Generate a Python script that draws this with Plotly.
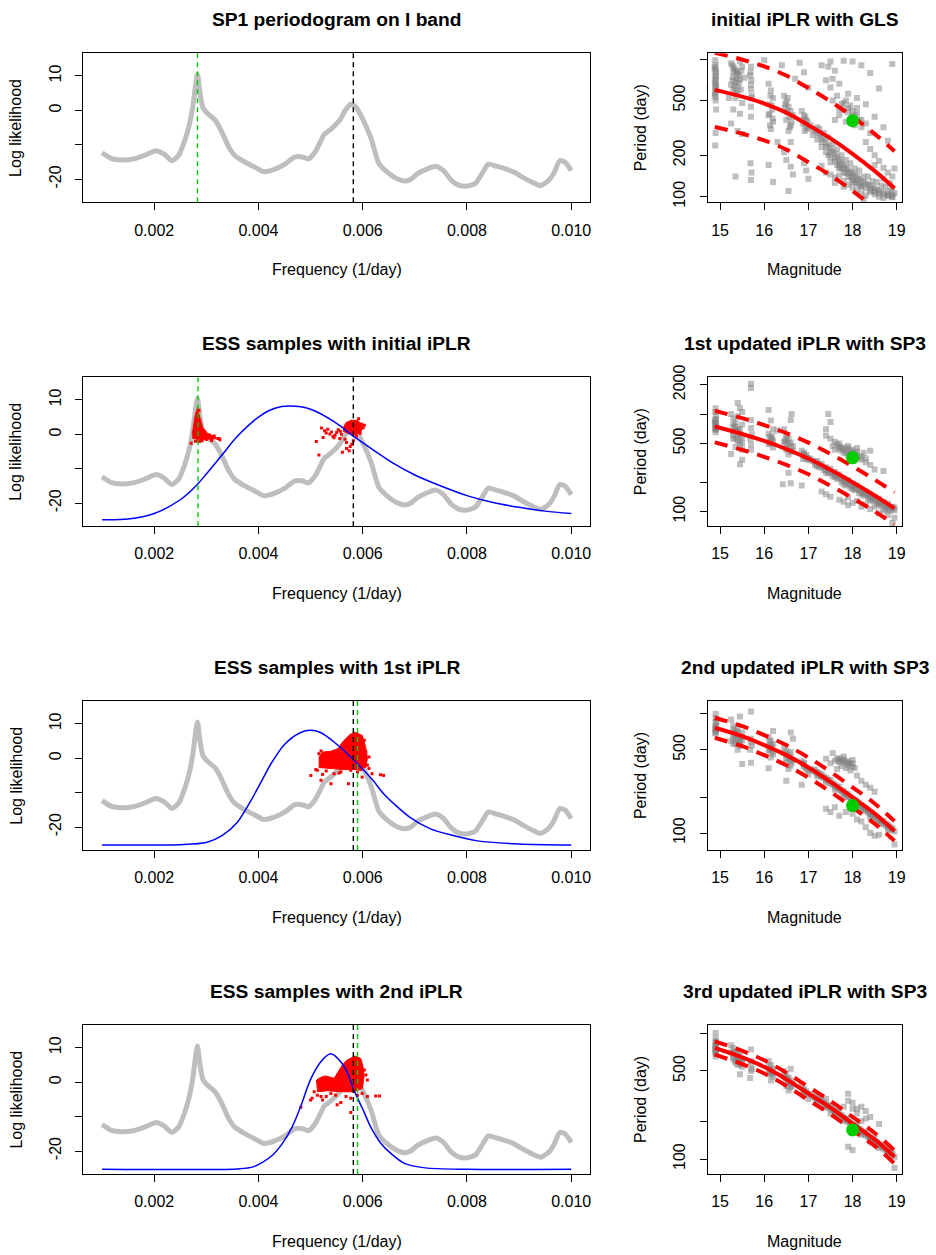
import plotly.graph_objects as go

W, H = 936, 1255
FONT = "Liberation Sans, Arial, Helvetica, sans-serif"

# ---- periodogram on I band (grey curve, identical in the four left panels)
freq = [0.00100, 0.00118, 0.00137, 0.00160, 0.00182, 0.00204, 0.00219, 0.00234, 0.00247, 0.00259,
        0.00268, 0.00274, 0.00279, 0.00283, 0.00288, 0.00294, 0.00306, 0.00317, 0.00328, 0.00343,
        0.00354, 0.00373, 0.00392, 0.00410, 0.00429, 0.00451, 0.00470, 0.00484, 0.00496, 0.00509,
        0.00519, 0.00526, 0.00541, 0.00556, 0.00567, 0.00577, 0.00586, 0.00601, 0.00616, 0.00631,
        0.00646, 0.00665, 0.00680, 0.00691, 0.00706, 0.00725, 0.00740, 0.00755, 0.00770, 0.00784,
        0.00799, 0.00816, 0.00829, 0.00841, 0.00856, 0.00874, 0.00889, 0.00908, 0.00927, 0.00942,
        0.00957, 0.00967, 0.00978, 0.00988, 0.01000]
loglik = [-12.3, -14.0, -14.4, -14.1, -13.0, -11.7, -12.7, -14.6, -13.0, -8.6,
          -3.8, 1.1, 6.9, 10.5, 4.9, 0.6, -1.4, -2.8, -5.7, -10.6,
          -13.0, -14.9, -16.4, -17.8, -17.2, -15.6, -13.5, -13.5, -14.1, -12.0,
          -9.1, -7.0, -5.2, -2.8, 0.1, 1.8, 1.2, -2.8, -8.1, -15.4,
          -17.8, -19.8, -20.5, -20.1, -18.3, -16.9, -16.2, -17.5, -20.3, -21.7,
          -22.0, -21.2, -18.3, -15.6, -16.2, -17.0, -17.8, -19.5, -21.0, -21.8,
          -20.3, -18.1, -14.6, -15.0, -17.5]

# ---- iPLR prior curves (blue), rows 2-4
prior_f = {
    2: [0.0010, 0.0015, 0.0020, 0.0025, 0.0028, 0.0030, 0.0033, 0.0036, 0.0040, 0.0043, 0.0046,
        0.0050, 0.0055, 0.0058, 0.0062, 0.0066, 0.0070, 0.0075, 0.0080, 0.0085, 0.0090, 0.0095, 0.0100],
    3: [0.0010, 0.0025, 0.0030, 0.0033, 0.0036, 0.00386, 0.0041, 0.00424, 0.0045, 0.0048, 0.0050,
        0.0052, 0.00545, 0.0059, 0.0062, 0.0064, 0.0069, 0.0073, 0.0077, 0.0082, 0.0090, 0.0100],
    4: [0.0010, 0.0036, 0.0039, 0.00424, 0.00445, 0.00465, 0.0048, 0.0050, 0.0052, 0.00537, 0.0055,
        0.0057, 0.00583, 0.0060, 0.00615, 0.00635, 0.00654, 0.0068, 0.0072, 0.0080, 0.0100],
}
prior_ll = {
    2: [-24.8, -24.6, -23.0, -19.0, -15.0, -11.5, -6.0, -0.5, 5.0, 7.5, 8.2,
        7.3, 3.2, -0.3, -4.5, -8.5, -11.8, -15.0, -17.8, -19.8, -21.2, -22.3, -23.0],
    3: [-25.2, -25.1, -24.5, -22.5, -18.5, -12.2, -5.5, -1.6, 4.0, 7.4, 8.1,
        7.4, 4.7, -1.6, -6.5, -10.3, -17.1, -20.5, -22.3, -24.0, -24.9, -25.2],
    4: [-25.3, -25.2, -24.6, -21.6, -18.0, -12.9, -7.5, 0.8, 6.0, 8.2, 7.2,
        3.0, -2.3, -7.8, -12.9, -17.8, -20.7, -23.6, -24.9, -25.3, -25.3],
}

# ---- frequency markers per row (black = true, green = estimate)
true_freq = [0.00582, 0.00582, 0.00582, 0.00582]
est_freq = [0.00283, 0.00284, 0.00590, 0.00590]

# ---- ESS samples (red): dense cores and scattered samples
core_f = {
    2: [[0.002822, 0.00286, 0.00289, 0.00293, 0.00303, 0.00318, 0.00318, 0.00290, 0.00274, 0.002745, 0.00277, 0.00280],
        [0.00563, 0.00568, 0.00578, 0.00590, 0.00598, 0.00600, 0.00596, 0.00585, 0.00572, 0.00562]],
    3: [[0.005847, 0.005994, 0.006057, 0.00609, 0.006057, 0.005898, 0.005643, 0.005388, 0.005164, 0.005164,
         0.005228, 0.005388, 0.005528, 0.005611, 0.005707, 0.00577]],
    4: [[0.005834, 0.005962, 0.006006, 0.006025, 0.005994, 0.005834, 0.005579, 0.005324, 0.005133, 0.005114,
         0.005196, 0.005292, 0.005452, 0.005528, 0.005611, 0.005707]],
}
core_ll = {
    2: [[7.9, 6.0, 4.0, 2.0, 0.2, -0.8, -1.3, -1.5, -1.2, 1.5, 4.0, 6.5],
        [2.0, 3.4, 4.1, 4.0, 3.0, 1.8, 0.6, -0.2, 0.2, 1.0]],
    3: [[7.6, 6.6, 3.2, -0.1, -2.7, -3.3, -3.3, -3.0, -2.7, 0.35, 1.8, 2.0, 2.8, 4.7, 6.2, 7.1]],
    4: [[7.6, 6.9, 4.5, 1.6, -1.8, -2.8, -2.8, -2.5, -2.8, 0.6, 1.4, 1.8, 1.1, 3.05, 5.0, 6.6]],
}
samp_f = {
    2: [0.00271, 0.00287, 0.00300, 0.00310, 0.00322, 0.00326, 0.00315, 0.00306, 0.00296, 0.00275,
        0.00279, 0.00283, 0.00292, 0.00298, 0.00325, 0.00278, 0.00286,
        0.00521, 0.00527, 0.00537, 0.00543, 0.00550, 0.00556, 0.00511, 0.00516, 0.00566, 0.00569,
        0.00576, 0.00561, 0.00582, 0.00588, 0.00595, 0.00598, 0.00524, 0.00533, 0.00540, 0.00547,
        0.00553, 0.00559, 0.00569, 0.00579, 0.00574, 0.00601, 0.00583, 0.00530, 0.00545, 0.00557,
        0.00603, 0.00592],
    3: [0.005005, 0.00510, 0.00520, 0.00539, 0.005547, 0.005726, 0.00577, 0.00596, 0.00612, 0.00618,
        0.00634, 0.00640, 0.00609, 0.00603, 0.00606, 0.00612, 0.00577, 0.00558, 0.00530, 0.00513,
        0.00523, 0.00545, 0.00590, 0.00599, 0.00516, 0.00520],
    4: [0.004813, 0.00500, 0.00503, 0.00507, 0.00520, 0.00523, 0.00551, 0.00558, 0.00577, 0.00577,
        0.00568, 0.00603, 0.00606, 0.00609, 0.00609, 0.00625, 0.00632, 0.00599, 0.00590, 0.00539,
        0.00530, 0.00513, 0.00548, 0.00590],
}
samp_ll = {
    2: [-2.6, -2.1, -1.5, -1.8, -1.2, -1.6, -0.5, -0.2, 0.8, 0.5,
        -2.0, -1.9, -1.9, -0.9, -1.3, 2.5, 7.0,
        1.85, 1.07, 0.1, -0.6, 0.5, -1.2, -2.1, -6.0, -1.4, -4.1,
        -3.5, -5.2, -1.9, -0.5, 0.3, 2.9, -0.9, 1.5, 0.7, -0.3,
        1.3, 0.0, -2.4, -2.9, -4.8, 1.9, 3.4, 0.4, -1.0, 0.9,
        2.6, 4.5],
    3: [-5.0, -3.3, -6.4, -7.4, -4.3, -7.4, -3.5, -3.3, -3.0, -4.5,
        -4.8, -5.0, -2.0, 5.2, 1.8, 0.35, -2.7, -4.0, -3.7, -3.5,
        -4.7, -4.5, -4.0, -5.5, 1.3, 2.1],
    4: [-7.3, -5.2, -4.7, -2.8, -4.2, -5.2, -6.6, -5.9, -8.8, -4.7,
        -4.2, 3.5, 2.1, 0.6, -4.2, -4.0, -4.0, -3.3, -3.8, -3.3,
        -4.2, -3.8, -3.8, -1.8],
}

# ---- period-luminosity panels: (magnitude, period) of the stars
stars = {}
stars[1] = [
    (14.89, 980), (14.9, 900), (14.88, 850), (14.91, 800), (14.89, 760), (14.9, 720), (14.88, 690),
    (14.91, 650), (14.9, 610), (14.89, 570), (14.9, 530), (14.91, 430), (14.9, 290), (14.89, 235),
    (14.88, 880), (14.9, 820), (14.91, 740), (14.9, 670), (14.89, 630), (14.91, 590), (14.88, 550),
    (14.9, 500),
    (15.25, 930), (15.3, 870), (15.35, 820), (15.4, 780), (15.3, 740), (15.45, 700), (15.35, 680),
    (15.25, 650), (15.4, 620), (15.5, 880), (15.45, 960), (15.3, 600), (15.4, 560), (15.35, 520),
    (15.5, 480), (15.3, 430), (15.45, 400), (15.25, 340), (15.4, 300), (15.5, 285), (15.35, 140),
    (15.55, 730), (15.2, 520), (15.28, 900), (15.33, 850), (15.38, 800), (15.43, 760), (15.28, 700),
    (15.33, 640), (15.42, 670), (15.47, 600), (15.38, 720), (15.3, 800), (15.48, 820), (15.35, 580),
    (15.7, 880), (15.68, 760), (15.7, 650), (15.72, 540), (15.7, 450), (15.7, 380), (15.69, 175),
    (15.71, 150), (15.7, 132), (15.7, 600), (15.71, 700), (15.69, 800), (15.7, 520),
    (16.1, 660), (16.15, 590), (16.2, 520), (16.12, 470), (16.18, 430), (16.1, 390), (16.2, 350),
    (16.15, 310), (16.3, 250), (16.1, 170), (16.2, 128), (16.0, 980), (16.12, 400), (16.17, 460),
    (16.14, 540), (16.19, 370), (16.13, 330),
    (16.45, 540), (16.5, 490), (16.55, 450), (16.6, 420), (16.65, 390), (16.5, 360), (16.6, 330),
    (16.55, 300), (16.45, 210), (16.5, 185), (16.6, 165), (16.65, 145), (16.55, 110), (16.4, 900),
    (16.7, 720), (16.6, 250), (16.47, 440), (16.52, 410), (16.57, 380), (16.62, 350), (16.48, 470),
    (16.58, 320), (16.53, 520),
    (16.85, 420), (16.9, 390), (16.95, 360), (16.88, 340), (17.0, 320), (16.92, 300), (16.9, 175),
    (16.95, 155), (17.0, 135), (16.9, 800), (17.0, 620), (16.8, 940), (16.87, 360), (16.92, 330),
    (16.97, 310), (16.93, 380), (16.98, 350),
    (17.05, 330), (17.1, 310), (17.15, 300), (17.2, 290), (17.25, 280), (17.3, 270), (17.3, 250),
    (17.35, 260), (17.4, 245), (17.4, 230), (17.45, 235), (17.5, 225), (17.5, 210), (17.55, 215),
    (17.6, 205), (17.6, 190), (17.65, 195), (17.7, 185), (17.7, 175), (17.75, 180), (17.8, 170),
    (17.8, 160), (17.85, 165), (17.9, 158), (17.9, 150), (17.95, 152), (18.0, 148), (18.0, 140),
    (18.05, 145), (18.1, 140), (18.1, 132), (18.15, 135), (18.2, 130), (18.25, 128), (18.3, 125),
    (18.35, 122), (18.4, 120), (18.45, 117), (18.5, 115), (18.55, 112), (18.6, 110), (18.7, 108),
    (18.8, 105), (18.9, 103), (18.95, 106), (17.2, 320), (17.35, 290), (17.55, 240), (17.75, 200),
    (17.95, 175), (18.15, 155), (18.35, 140), (18.55, 128), (18.75, 118), (18.9, 115),
    (17.1, 280), (17.2, 260), (17.3, 230), (17.4, 210), (17.45, 200), (17.5, 195), (17.6, 180),
    (17.65, 170), (17.7, 165), (17.75, 160), (17.8, 150), (17.85, 148), (17.9, 140), (17.95, 138),
    (18.0, 132), (18.05, 128), (18.1, 125), (18.15, 122), (18.2, 118), (18.3, 115), (18.4, 112),
    (18.5, 108), (18.6, 106), (18.7, 104), (18.8, 102), (18.9, 100), (17.25, 310), (17.45, 270),
    (17.65, 220), (17.85, 185), (18.05, 160), (18.25, 140), (18.45, 130), (18.65, 120), (18.85, 110),
    (17.55, 500), (17.65, 540), (17.75, 470), (17.8, 430), (17.85, 500), (17.9, 410), (17.95, 460),
    (18.0, 420), (18.05, 390), (18.1, 440), (18.15, 360), (17.7, 390), (17.6, 360), (18.2, 320),
    (18.3, 340), (18.4, 290), (17.5, 620), (17.55, 720), (17.45, 880), (17.5, 960), (17.6, 820),
    (17.7, 660), (17.9, 560), (18.1, 520), (17.8, 480), (17.9, 440), (18.0, 380), (18.1, 400),
    (17.7, 430), (17.85, 350), (18.05, 330), (18.2, 360),
    (17.4, 150), (17.5, 145), (17.6, 138), (17.7, 142), (17.8, 130), (17.9, 122), (18.0, 116),
    (18.1, 111), (18.2, 106), (18.3, 102), (17.6, 126), (17.8, 118), (18.0, 128), (18.2, 119),
    (18.4, 108), (18.5, 104), (18.6, 100), (18.7, 98), (18.8, 101), (18.9, 99), (17.3, 168),
    (17.5, 178), (17.7, 160), (18.25, 96),
    (18.3, 250), (18.4, 222), (18.5, 200), (18.6, 182), (18.7, 162), (18.8, 150), (18.9, 140),
    (18.5, 170), (18.7, 135), (18.85, 125), (18.9, 920), (18.6, 610), (18.3, 470), (18.5, 380),
    (18.7, 320), (18.8, 255), (18.2, 900), (18.0, 960), (17.8, 970), (18.4, 790), (17.3, 900),
    (17.4, 700), (18.95, 160),
]
stars[2] = [
    (14.9, 1150), (14.89, 1050), (14.91, 960), (14.9, 890), (14.88, 840), (14.9, 800), (14.91, 760),
    (14.89, 720), (14.9, 690), (14.9, 650), (14.9, 870), (14.89, 810), (14.91, 780), (14.9, 740),
    (14.9, 700),
    (15.25, 1000), (15.3, 900), (15.35, 820), (15.4, 1300), (15.45, 1150), (15.5, 1050), (15.4, 950),
    (15.3, 740), (15.35, 680), (15.45, 620), (15.5, 570), (15.4, 530), (15.3, 610), (15.45, 480),
    (15.5, 430), (15.35, 460), (15.5, 340), (15.45, 305), (15.25, 390), (15.3, 560), (15.4, 700),
    (15.5, 780), (15.3, 780), (15.35, 740), (15.4, 660), (15.45, 700), (15.3, 650), (15.4, 600),
    (15.35, 560), (15.45, 540), (15.5, 500),
    (15.7, 2050), (15.7, 1850), (15.7, 870), (15.7, 720), (15.72, 620), (15.7, 490), (15.7, 430),
    (15.68, 560),
    (16.1, 1100), (16.15, 860), (16.2, 700), (16.1, 630), (16.15, 570), (16.2, 530), (16.1, 490),
    (16.2, 455), (16.3, 680), (16.15, 510), (16.12, 580), (16.17, 540), (16.13, 500), (16.18, 600),
    (16.45, 700), (16.5, 610), (16.55, 560), (16.6, 510), (16.65, 470), (16.5, 430), (16.6, 410),
    (16.55, 385), (16.6, 870), (16.62, 1000), (16.42, 190), (16.6, 195), (16.55, 250), (16.5, 480),
    (16.45, 520), (16.5, 560), (16.55, 500), (16.6, 460), (16.5, 450), (16.65, 420), (16.47, 530),
    (16.85, 420), (16.9, 400), (16.95, 380), (17.0, 355), (16.85, 185), (17.0, 335), (16.9, 370),
    (16.95, 350), (16.9, 390), (16.95, 365), (16.88, 345),
    (17.05, 345), (17.1, 330), (17.15, 320), (17.2, 310), (17.25, 300), (17.3, 290), (17.35, 280),
    (17.4, 270), (17.45, 262), (17.5, 255), (17.55, 248), (17.6, 240), (17.65, 230), (17.7, 222),
    (17.75, 215), (17.8, 208), (17.85, 200), (17.9, 195), (17.95, 188), (18.0, 182), (18.05, 176),
    (18.1, 172), (18.15, 166), (18.2, 160), (18.25, 155), (18.3, 150), (18.35, 146), (18.4, 141),
    (18.45, 137), (18.5, 133), (18.55, 129), (18.6, 125), (18.65, 121), (18.7, 118), (18.75, 115),
    (18.8, 112), (18.85, 109), (18.9, 106), (18.95, 103), (17.2, 290), (17.4, 250), (17.6, 225),
    (17.8, 190), (18.0, 170), (18.2, 150), (18.4, 132), (18.6, 118), (18.8, 105), (18.95, 110),
    (17.3, 310), (17.5, 275), (17.7, 240), (17.9, 210), (18.1, 185), (18.3, 160), (18.5, 140),
    (18.7, 125), (18.9, 112), (17.15, 300), (17.25, 285), (17.35, 265), (17.45, 245), (17.55, 230),
    (17.65, 215), (17.75, 200), (17.85, 185), (17.95, 175), (18.05, 165), (18.15, 155), (18.25, 145),
    (18.35, 135), (18.45, 128), (18.55, 120), (18.65, 113), (18.75, 107), (18.85, 102), (17.2, 330),
    (17.4, 285), (17.6, 255), (17.8, 220), (18.0, 192), (18.2, 170), (18.4, 150), (18.6, 135),
    (18.8, 120),
    (17.4, 600), (17.5, 560), (17.4, 700), (17.5, 830), (17.45, 1000), (17.6, 520), (17.65, 490),
    (17.7, 465), (17.8, 455), (17.9, 445), (18.0, 430), (18.1, 410), (17.75, 420), (17.85, 400),
    (17.95, 390), (18.05, 370), (18.15, 355), (18.2, 340), (18.3, 320), (18.4, 300), (18.5, 270),
    (18.7, 260), (17.6, 430), (18.25, 400), (18.4, 420), (17.7, 500), (17.9, 470), (18.1, 450),
    (17.55, 470), (18.0, 400), (17.75, 450), (17.85, 430), (17.95, 420), (18.05, 400), (17.8, 400),
    (17.9, 380), (18.1, 380), (18.2, 370), (17.7, 440), (18.3, 350),
    (17.4, 150), (17.5, 142), (17.7, 132), (17.8, 126), (17.9, 116), (18.0, 122), (18.2, 112),
    (18.4, 106), (18.6, 96), (18.9, 76), (18.95, 86), (17.3, 160), (17.9, 140), (18.1, 128),
    (18.3, 118), (18.5, 112), (18.7, 102), (18.8, 92),
]
stars[3] = [
    (14.9, 1000), (14.9, 920), (14.92, 850), (14.9, 800), (14.89, 760), (14.91, 720), (14.9, 690),
    (14.9, 860), (14.9, 780), (14.91, 740), (14.89, 700),
    (15.25, 900), (15.3, 800), (15.35, 720), (15.4, 650), (15.45, 600), (15.3, 660), (15.4, 750),
    (15.5, 700), (15.45, 540), (15.3, 560), (15.4, 500), (15.5, 380), (15.25, 590), (15.45, 950),
    (15.35, 620), (15.5, 640), (15.3, 700), (15.3, 740), (15.35, 680), (15.4, 700), (15.45, 650),
    (15.3, 620), (15.4, 600), (15.45, 580), (15.35, 560), (15.5, 600),
    (15.7, 1050), (15.7, 620), (15.7, 580), (15.72, 540), (15.7, 390), (15.68, 500),
    (16.1, 640), (16.15, 600), (16.2, 560), (16.15, 520), (16.1, 490), (16.2, 460), (16.15, 430),
    (16.1, 350), (16.2, 720), (16.12, 550), (16.12, 580), (16.17, 530), (16.13, 500), (16.18, 480),
    (16.45, 520), (16.5, 490), (16.55, 460), (16.6, 435), (16.65, 410), (16.5, 390), (16.6, 370),
    (16.6, 700), (16.65, 620), (16.5, 275), (16.55, 345), (16.45, 470), (16.6, 480), (16.5, 450),
    (16.55, 430), (16.6, 410), (16.5, 420), (16.62, 390),
    (16.85, 400), (16.9, 375), (16.95, 355), (17.0, 335), (16.85, 255), (17.0, 310), (16.9, 390),
    (16.9, 360), (16.95, 345), (16.88, 380),
    (17.05, 345), (17.1, 335), (17.15, 325), (17.2, 315), (17.25, 305), (17.3, 295), (17.35, 288),
    (17.4, 280), (17.45, 272), (17.5, 262), (17.55, 255), (17.6, 246), (17.65, 238), (17.7, 230),
    (17.75, 222), (17.8, 215), (17.85, 208), (17.9, 200), (17.95, 194), (18.0, 188), (18.05, 182),
    (18.1, 176), (18.15, 170), (18.2, 164), (18.25, 159), (18.3, 154), (18.35, 149), (18.4, 144),
    (18.45, 139), (18.5, 135), (18.55, 131), (18.6, 127), (18.65, 123), (18.7, 119), (18.75, 116),
    (18.8, 112), (18.85, 109), (18.9, 106), (18.95, 103), (17.2, 300), (17.4, 265), (17.6, 232),
    (17.8, 202), (18.0, 178), (18.2, 155), (18.4, 136), (18.6, 120), (18.8, 106), (17.3, 310),
    (17.5, 280), (17.7, 245), (17.9, 212), (18.1, 186), (18.3, 162), (18.5, 142), (18.7, 126),
    (18.9, 110), (17.15, 340), (17.25, 318), (17.35, 298), (17.45, 280), (17.55, 262), (17.65, 246),
    (17.75, 230), (17.85, 215), (17.95, 202), (18.05, 190), (18.15, 178), (18.25, 166), (18.35, 155),
    (18.45, 145), (18.55, 136), (18.65, 127), (18.75, 120), (18.85, 113), (17.2, 325), (17.4, 290),
    (17.6, 255), (17.8, 225), (18.0, 196), (18.2, 172), (18.4, 150), (18.6, 132), (18.8, 117),
    (17.4, 420), (17.5, 385), (17.6, 405), (17.7, 425), (17.8, 415), (17.9, 400), (18.0, 385),
    (17.75, 365), (17.85, 352), (17.95, 335), (18.1, 305), (18.2, 275), (18.3, 255), (18.4, 240),
    (18.5, 222), (17.65, 345), (18.05, 352), (17.55, 470), (17.8, 440), (18.0, 410), (17.7, 395),
    (17.9, 370), (17.75, 410), (17.85, 395), (17.95, 380), (17.8, 390), (17.9, 385), (18.0, 360),
    (17.7, 405), (17.65, 420),
    (17.4, 160), (17.5, 150), (17.7, 140), (17.85, 150), (18.0, 145), (18.1, 130), (18.3, 112),
    (18.4, 100), (18.5, 95), (18.6, 97), (18.95, 80), (17.6, 165), (18.2, 125),
]
stars[4] = [
    (14.9, 1000), (14.9, 900), (14.91, 840), (14.89, 790), (14.9, 750), (14.9, 710), (14.91, 680),
    (14.9, 650), (14.9, 860), (14.9, 800), (14.91, 770), (14.89, 730), (14.9, 690),
    (15.25, 800), (15.3, 760), (15.35, 720), (15.4, 690), (15.45, 660), (15.3, 680), (15.4, 630),
    (15.5, 620), (15.45, 580), (15.3, 620), (15.4, 560), (15.5, 540), (15.35, 600), (15.25, 700),
    (15.45, 470), (15.3, 700), (15.35, 660), (15.4, 650), (15.45, 620), (15.3, 640), (15.4, 600),
    (15.45, 560), (15.35, 580), (15.5, 580),
    (15.7, 740), (15.7, 600), (15.7, 560), (15.72, 520), (15.7, 500), (15.68, 440),
    (16.1, 600), (16.15, 560), (16.2, 520), (16.15, 490), (16.1, 470), (16.2, 450), (16.15, 420),
    (16.1, 540), (16.12, 520), (16.17, 500), (16.13, 480), (16.18, 470),
    (16.45, 500), (16.5, 470), (16.55, 440), (16.6, 420), (16.65, 400), (16.5, 380), (16.6, 370),
    (16.6, 520), (16.55, 350), (16.45, 450), (16.5, 440), (16.55, 420), (16.6, 400), (16.5, 410),
    (16.62, 380),
    (16.85, 380), (16.9, 360), (16.95, 345), (17.0, 330), (16.9, 320), (17.0, 300), (16.9, 345),
    (16.95, 335), (16.88, 350),
    (17.05, 325), (17.1, 315), (17.15, 305), (17.2, 298), (17.25, 290), (17.3, 282), (17.35, 274),
    (17.4, 267), (17.45, 260), (17.5, 252), (17.55, 245), (17.6, 238), (17.65, 230), (17.7, 223),
    (17.75, 216), (17.8, 210), (17.85, 203), (17.9, 197), (17.95, 191), (18.0, 186), (18.05, 180),
    (18.1, 175), (18.15, 169), (18.2, 164), (18.25, 159), (18.3, 154), (18.35, 150), (18.4, 145),
    (18.45, 141), (18.5, 137), (18.55, 133), (18.6, 129), (18.65, 125), (18.7, 121), (18.75, 117),
    (18.8, 113), (18.85, 110), (18.9, 107), (18.95, 104), (17.2, 280), (17.4, 255), (17.6, 226),
    (17.8, 200), (18.0, 176), (18.2, 156), (18.4, 138), (18.6, 122), (18.8, 108), (17.3, 295),
    (17.5, 266), (17.7, 236), (17.9, 208), (18.1, 185), (18.3, 162), (18.5, 145), (18.7, 128),
    (18.9, 112), (17.15, 310), (17.25, 295), (17.35, 280), (17.45, 265), (17.55, 250), (17.65, 236),
    (17.75, 222), (17.85, 208), (17.95, 196), (18.05, 185), (18.15, 174), (18.25, 164), (18.35, 154),
    (18.45, 145), (18.55, 137), (18.65, 129), (18.75, 121), (18.85, 114), (17.2, 300), (17.4, 270),
    (17.6, 240), (17.8, 214), (18.0, 190), (18.2, 168), (18.4, 149), (18.6, 132), (18.8, 117),
    (17.9, 330), (17.9, 290), (18.0, 280), (18.1, 250), (18.2, 260), (18.3, 240), (18.4, 215),
    (18.6, 190), (17.9, 125), (18.0, 118), (18.95, 85), (17.4, 300), (17.5, 230), (18.1, 230),
    (18.0, 250), (17.8, 260), (18.2, 200), (18.3, 210),
]

# ---- fitted iPLR (solid) and its band (dashed)
fit_mag = [14.88, 15.5, 16.0, 16.5, 17.0, 17.5, 18.0, 18.5, 18.95]
fit_mid = {1: [597, 533, 475, 408, 331, 265, 205, 154, 115],
           2: [745, 625, 530, 438, 350, 268, 200, 146, 108],
           3: [766, 651, 547, 451, 355, 269, 199, 146, 104],
           4: [761, 640, 538, 430, 331, 256, 191, 143, 104]}
fit_hi = {1: [1109, 990, 883, 758, 615, 492, 381, 286, 214],
          2: [1084, 909, 771, 637, 509, 390, 291, 212, 157],
          3: [930, 790, 664, 548, 431, 327, 242, 177, 126],
          4: [859, 723, 607, 485, 374, 289, 216, 161, 117]}
fit_lo = {1: [321, 287, 256, 220, 178, 143, 110, 83, 62],
          2: [512, 430, 364, 301, 241, 184, 137, 100, 74],
          3: [631, 536, 451, 371, 292, 222, 164, 120, 86],
          4: [674, 567, 477, 381, 293, 227, 169, 127, 92]}
target_mag = 18.0
target_per = [356, 356, 170, 170]

left_titles = ["SP1 periodogram on I band", "ESS samples with initial iPLR",
               "ESS samples with 1st iPLR", "ESS samples with 2nd iPLR"]
right_titles = ["initial iPLR with GLS", "1st updated iPLR with SP3",
                "2nd updated iPLR with SP3", "3rd updated iPLR with SP3"]
per_ticks = {1: ([100, 200, 500, 1000], ["100", "200", "500", ""]),
             2: ([100, 200, 500, 1000, 2000], ["100", "", "500", "", "2000"]),
             3: ([100, 200, 500, 1000], ["100", "", "500", ""]),
             4: ([100, 200, 500, 1000], ["100", "", "500", ""])}
per_range = {1: [1.9593, 3.0414], 2: [1.849, 3.379], 3: [1.857, 3.108], 4: [1.881, 3.0635]}

# ---- layout geometry (pixels)
row_top = [53.3, 377.2, 701.1, 1025.0]
box_h = 149.0
L_X = (83.3, 590.0)
R_X = (707.7, 901.7)


def px_x(v):
    return v / W


def px_y(v):
    return 1 - v / H


fig = go.Figure()
layout = dict(width=W, height=H, margin=dict(l=0, r=0, t=0, b=0, pad=0, autoexpand=False),
              paper_bgcolor="white", plot_bgcolor="white", showlegend=False,
              font=dict(family=FONT, size=16, color="black"))
shapes, annos = [], []

axis_base = dict(showline=True, linecolor="black", linewidth=1, mirror=True, ticks="outside",
                 ticklen=7, tickwidth=1, tickcolor="black", showgrid=False, zeroline=False,
                 automargin=False, tickfont=dict(family=FONT, size=16, color="black"),
                 fixedrange=True)

for r in range(4):
    top = row_top[r]
    bot = top + box_h
    ydom = [px_y(bot), px_y(top)]
    li = 2 * r + 1
    ri = 2 * r + 2
    lx, ly = ("x" if li == 1 else f"x{li}"), ("y" if li == 1 else f"y{li}")
    rx, ry = f"x{ri}", f"y{ri}"
    layout[f"xaxis{'' if li == 1 else li}"] = dict(
        axis_base, domain=[px_x(L_X[0]), px_x(L_X[1])], anchor=ly, range=[0.00064, 0.01036],
        tickvals=[0.002, 0.004, 0.006, 0.008, 0.010],
        ticktext=["0.002", "0.004", "0.006", "0.008", "0.010"], ticklabelstandoff=6)
    layout[f"yaxis{'' if li == 1 else li}"] = dict(
        axis_base, domain=ydom, anchor=lx, range=[-26.68, 16.59],
        tickvals=[-20, -10, 0, 10], ticktext=["-20", "", "0", "10"], tickangle=-90,
        ticklabelstandoff=8)
    layout[f"xaxis{ri}"] = dict(
        axis_base, domain=[px_x(R_X[0]), px_x(R_X[1])], anchor=ry, range=[14.72, 19.113],
        tickvals=[15, 16, 17, 18, 19], ticktext=["15", "16", "17", "18", "19"],
        ticklabelstandoff=6)
    tv, tt = per_ticks[r + 1]
    layout[f"yaxis{ri}"] = dict(
        axis_base, domain=ydom, anchor=rx, type="log", range=per_range[r + 1],
        tickvals=tv, ticktext=tt, tickangle=-90, ticklabelstandoff=8)

    # grey periodogram
    fig.add_trace(go.Scatter(x=freq, y=loglik, mode="lines", xaxis=lx, yaxis=ly,
                             line=dict(color="#bebebe", width=5, shape="spline", smoothing=0.6),
                             hoverinfo="skip"))
    row = r + 1
    if row in core_f:
        for cf, cl in zip(core_f[row], core_ll[row]):
            fig.add_trace(go.Scatter(x=cf, y=cl, mode="lines", fill="toself", fillcolor="#ff0000",
                                     line=dict(color="#ff0000", width=1), xaxis=lx, yaxis=ly,
                                     hoverinfo="skip"))
        fig.add_trace(go.Scatter(x=samp_f[row], y=samp_ll[row], mode="markers", xaxis=lx, yaxis=ly,
                                 marker=dict(symbol="square", size=3, color="#ff0000", line_width=0),
                                 hoverinfo="skip"))
        fig.add_trace(go.Scatter(x=prior_f[row], y=prior_ll[row], mode="lines", xaxis=lx, yaxis=ly,
                                 line=dict(color="#0000ff", width=1.5, shape="spline", smoothing=0.8),
                                 hoverinfo="skip"))
    for fx, col in ((true_freq[r], "black"), (est_freq[r], "#00cd00")):
        shapes.append(dict(type="line", xref=lx, yref=f"{ly} domain", x0=fx, x1=fx, y0=0, y1=1,
                           line=dict(color=col, width=1.4, dash="5px,4px")))

    # right panel: stars, fitted relation and target
    mags = [s[0] for s in stars[row]]
    pers = [s[1] for s in stars[row]]
    fig.add_trace(go.Scatter(x=mags, y=pers, mode="markers", xaxis=rx, yaxis=ry,
                             marker=dict(symbol="square", size=6, color="rgba(128,128,128,0.5)",
                                         line_width=0), hoverinfo="skip"))
    for arr, dash in ((fit_hi[row], "13px,9px"), (fit_lo[row], "13px,9px"), (fit_mid[row], "solid")):
        fig.add_trace(go.Scatter(x=fit_mag, y=arr, mode="lines", xaxis=rx, yaxis=ry,
                                 line=dict(color="#ff0000", width=4, dash=dash, shape="spline"),
                                 hoverinfo="skip"))
    fig.add_trace(go.Scatter(x=[target_mag], y=[target_per[r]], mode="markers", xaxis=rx, yaxis=ry,
                             marker=dict(symbol="circle", size=13, color="#00cd00", line_width=0),
                             hoverinfo="skip"))

    # titles and axis labels
    ttl_y = px_y(top - 34)
    annos.append(dict(text=f"<b>{left_titles[r]}</b>", x=px_x(sum(L_X) / 2), y=ttl_y,
                      font=dict(size=19.2)))
    annos.append(dict(text=f"<b>{right_titles[r]}</b>", x=px_x(sum(R_X) / 2), y=ttl_y,
                      font=dict(size=19.2)))
    lab_y = px_y(bot + 67.2)
    annos.append(dict(text="Frequency (1/day)", x=px_x(sum(L_X) / 2), y=lab_y))
    annos.append(dict(text="Magnitude", x=px_x(sum(R_X) / 2), y=lab_y))
    mid_y = px_y(top + box_h / 2)
    annos.append(dict(text="Log likelihood", x=px_x(L_X[0] - 67.2), y=mid_y, textangle=-90))
    annos.append(dict(text="Period (day)", x=px_x(R_X[0] - 67.2), y=mid_y, textangle=-90))

for a in annos:
    a.update(xref="paper", yref="paper", showarrow=False, xanchor="center", yanchor="middle")
    a.setdefault("font", dict(size=16))
    a["font"] = dict(family=FONT, color="black", **a["font"])

layout["shapes"] = shapes
layout["annotations"] = annos
fig.update_layout(**layout)
# the page's default 8px body margin would shift the whole figure
fig.write_html("out.html", config={"displayModeBar": False, "staticPlot": True},
               post_script="document.body.style.margin = '0';")
